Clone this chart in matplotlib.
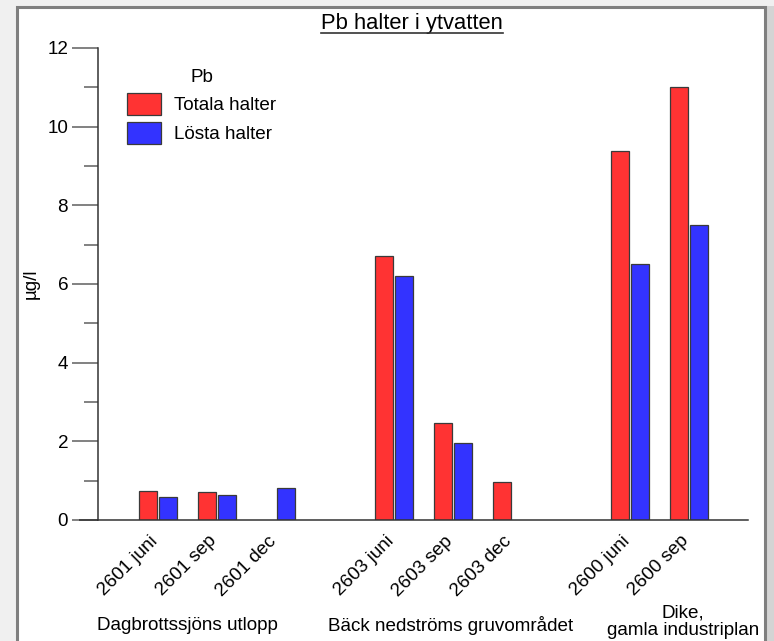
import matplotlib
matplotlib.use("Agg")
from matplotlib import pyplot as plt
from matplotlib.patches import Rectangle, Patch
from matplotlib.ticker import MultipleLocator

plt.rcParams["font.family"] = ["Liberation Sans", "DejaVu Sans"]

# Pb concentrations in surface water, µg/l
samples = ["2601 juni", "2601 sep", "2601 dec",
           "2603 juni", "2603 sep", "2603 dec",
           "2600 juni", "2600 sep"]
slots = [0, 1, 2, 4, 5, 6, 8, 9]
totala = [0.75, 0.70, None, 6.70, 2.46, 0.97, 9.37, 11.0]
losta = [0.58, 0.64, 0.81, 6.20, 1.95, None, 6.50, 7.50]
groups = ["Dagbrottssjöns utlopp", "Bäck nedströms gruvområdet", "Dike,\ngamla industriplan"]
group_x = [0.5, 4.95, 8.9]

RED = "#ff3333"
BLUE = "#3333ff"
FS = 13.6

fig = plt.figure(figsize=(7.74, 6.41), dpi=100)
fig.patch.set_facecolor("#f0f0f0")

# white sheet with grey border behind the chart
fig.patches.append(Rectangle((767 / 774, -0.1), 0.02, 1.09, transform=fig.transFigure,
                             facecolor="#d4d4d4", edgecolor="none", zorder=-2))
fig.patches.append(Rectangle((17 / 774, -0.1), 748 / 774, 1.1 - 7 / 641,
                             transform=fig.transFigure, facecolor="white",
                             edgecolor="#7f7f7f", linewidth=2.2, zorder=-1))

ax = fig.add_axes([98 / 774, 1 - 520 / 641, 650 / 774, 472 / 641])
ax.set_facecolor("none")

w = 0.315
off = 0.17
for x, t, l in zip(slots, totala, losta):
    if t is not None:
        ax.bar(x - off, t, width=w, color=RED, edgecolor="#3a3a3a", linewidth=0.9)
    if l is not None:
        ax.bar(x + off, l, width=w, color=BLUE, edgecolor="#3a3a3a", linewidth=0.9)

ax.set_xlim(-1.02, 10.0)
ax.set_ylim(0, 12)
ax.yaxis.set_major_locator(MultipleLocator(2))
ax.yaxis.set_minor_locator(MultipleLocator(1))
# x ticks are hidden; their labels sit slightly left of each pair's centre
ax.set_xticks([s - 0.15 for s in slots])
ax.set_xticklabels(samples, rotation=45, ha="right", va="top",
                   rotation_mode="anchor", fontsize=FS)
ax.tick_params(axis="x", length=0, pad=9)
ax.tick_params(axis="y", which="major", length=19, width=1.3, color="#777777",
               labelsize=FS, pad=2.5)
ax.tick_params(axis="y", which="minor", length=10, width=1.3, color="#777777")

for s in ["top", "right"]:
    ax.spines[s].set_visible(False)
ax.spines["left"].set_color("#333333")
ax.spines["bottom"].set_color("#333333")
ax.spines["left"].set_linewidth(1.1)
ax.spines["bottom"].set_linewidth(1.1)
# baseline continues out to the left under the zero tick
ax.plot([-1.02 - 19 / 59, -1.02], [0, 0], color="#333333", lw=1.1,
        clip_on=False, solid_capstyle="butt")

ax.set_ylabel("µg/l", fontsize=FS)
ax.yaxis.set_label_coords((40 - 98) / 650, 0.5)

title = ax.text(0.483, 1.051, "Pb halter i ytvatten", transform=ax.transAxes,
                ha="center", va="center", fontsize=15.8)
fig.canvas.draw()
bb = title.get_window_extent()
fig.add_artist(plt.Line2D([bb.x0, bb.x1], [bb.y0 + 1, bb.y0 + 1], transform=None,
                          color="#333333", lw=1.2))

for gx, g in zip(group_x, groups):
    ax.text(gx, -0.215 if "\n" in g else -0.223, g, transform=ax.get_xaxis_transform(),
            ha="center", va="center", fontsize=FS, linespacing=1.05)

handles = [Patch(facecolor=RED, edgecolor="#3a3a3a", linewidth=0.9, label="Totala halter"),
           Patch(facecolor=BLUE, edgecolor="#3a3a3a", linewidth=0.9, label="Lösta halter")]
leg = ax.legend(handles=handles, title="Pb", loc="upper left",
                bbox_to_anchor=(29 / 650, (520 - 69) / 472), frameon=False,
                fontsize=FS, title_fontsize=FS, borderpad=0, borderaxespad=0,
                handlelength=1.8, handleheight=1.4, handletextpad=0.7,
                labelspacing=0.38)

fig.savefig("out.png", dpi=100, facecolor=fig.get_facecolor())
